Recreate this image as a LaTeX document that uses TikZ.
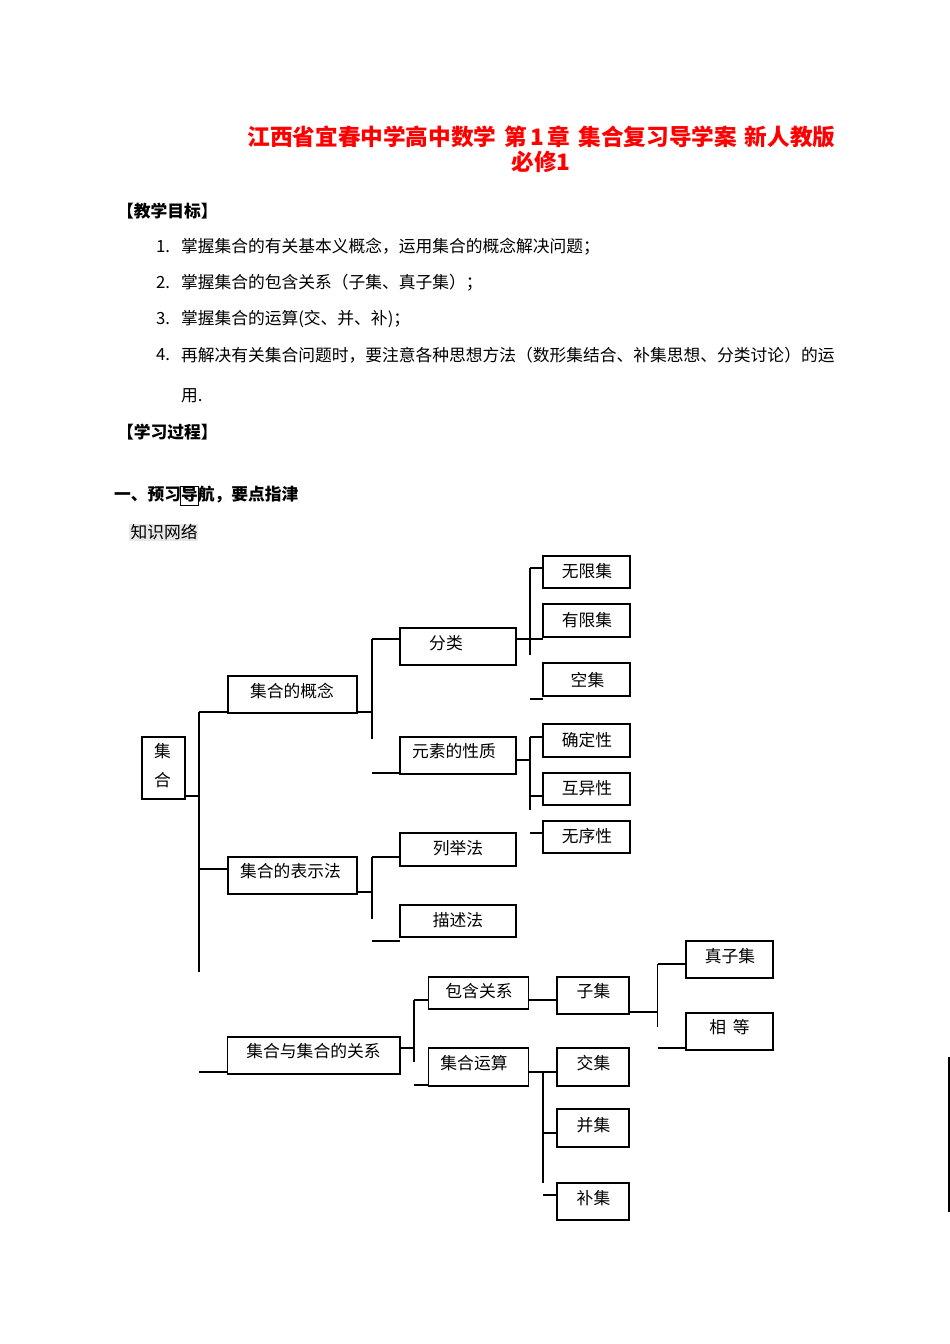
\documentclass[tikz,border=0pt]{standalone}
\usepackage{fontspec}
\setmainfont{Noto Sans CJK SC}
\usetikzlibrary{fit}
\newcommand\mybox[5]{\node[boxline, fit={(#2,#3) (#4,#5)}] (#1) {};}
\begin{document}
\begin{tikzpicture}[x=0.6266pt,y=-0.6266pt,
  every node/.style={inner sep=0pt, outer sep=0pt},
  txt/.style={font=\fontsize{10.5pt}{12pt}\selectfont},
  hdr/.style={font=\fontsize{10.5pt}{12pt}\selectfont\bfseries, anchor=west},
  ttl/.style={font=\fontsize{14.2pt}{17pt}\selectfont\bfseries, text=red},
  boxline/.style={draw, line width=0.9pt, inner sep=0pt},
  conn/.style={line width=0.9pt}]
\fill[white] (0,0) rectangle (950,1344);
\useasboundingbox (0,0) rectangle (950,1344);

% title
\node[ttl] (title1) at (541.5,137) {江西省宜春中学高中数学\hspace{0.35em}第\hspace{0.15em}1\hspace{0.15em}章\hspace{0.35em}集合复习导学案\hspace{0.35em}新人教版};
\node[ttl] (title2) at (541,162) {必修1};

% objectives
\node[hdr] (h1) at (117,211) {【教学目标】};
\node[txt, anchor=west] (n1) at (156,247) {1.};
\node[txt, anchor=west] (i1) at (181,247) {掌握集合的有关基本义概念，运用集合的概念解决问题；};
\node[txt, anchor=west] (n2) at (156,283) {2.};
\node[txt, anchor=west] (i2) at (181,283) {掌握集合的包含关系（子集、真子集）；};
\node[txt, anchor=west] (n3) at (156,319) {3.};
\node[txt, anchor=west] (i3) at (181,319) {掌握集合的运算(交、并、补)；};
\node[txt, anchor=west] (n4) at (156,355) {4.};
\node[txt, anchor=west] (i4) at (181,355) {再解决有关集合问题时，要注意各种思想方法（数形集结合、补集思想、分类讨论）的运};
\node[txt, anchor=west] (i4b) at (181,396) {用.};
\node[hdr] (h2) at (117,432) {【学习过程】};

% section
\node[hdr] (h3) at (114,495) {一、预习导航，要点指津};
\node[draw, line width=0.6pt, fit={(180.5,486) (198.5,505)}] (daobox) {};
\fill[gray!18] (129,524) rectangle (198,541);
\node[txt, anchor=west] (h4) at (130.5,532) {知识网络};

% boxes
\mybox{jihe}{142}{737}{185}{799}
\mybox{gainian}{228}{676}{357}{713}
\mybox{fenlei}{400}{628}{516}{665}
\mybox{xingzhi}{400}{737}{516}{774}
\mybox{wuxian}{543}{556}{630}{588}
\mybox{youxian}{543}{604}{630}{637}
\mybox{kong}{543}{663}{630}{696}
\mybox{queding}{543}{724}{630}{757}
\mybox{huyi}{543}{773}{630}{805}
\mybox{wuxu}{543}{821}{630}{853}
\mybox{biaoshi}{228}{857}{357}{894}
\mybox{liju}{400}{833}{516}{866}
\mybox{miaoshu}{400}{905}{516}{937}
\mybox{guanxi}{227.5}{1037}{400}{1074}
\mybox{baohan}{428.5}{977}{528.5}{1009}
\mybox{yunsuan}{428.5}{1048}{528.5}{1086}
\mybox{ziji}{557}{977}{629}{1014}
\mybox{zhenziji}{686}{941}{773}{978}
\mybox{xiangdeng}{686}{1013}{773}{1050}
\mybox{jiao}{557}{1048}{629}{1086}
\mybox{bing}{557}{1109}{629}{1147}
\mybox{bu}{557}{1183}{629}{1220}

% box texts
\node[txt] (l-ji) at (162.5,751.5) {集};
\node[txt] (l-he) at (162.5,780) {合};
\node[txt] (l-gainian) at (292,691.5) {集合的概念};
\node[txt] (l-fenlei) at (446,643) {分类};
\node[txt] (l-xingzhi) at (454,751.5) {元素的性质};
\node[txt] (l-wuxian) at (587,571.5) {无限集};
\node[txt] (l-youxian) at (587,620) {有限集};
\node[txt] (l-kong) at (587.5,680) {空集};
\node[txt] (l-queding) at (587,740) {确定性};
\node[txt] (l-huyi) at (587,788.5) {互异性};
\node[txt] (l-wuxu) at (587,836) {无序性};
\node[txt] (l-biaoshi) at (290.5,871.5) {集合的表示法};
\node[txt] (l-liju) at (458,848.5) {列举法};
\node[txt] (l-miaoshu) at (458,920) {描述法};
\node[txt] (l-guanxi) at (313.5,1051.5) {集合与集合的关系};
\node[txt] (l-baohan) at (479,991.5) {包含关系};
\node[txt] (l-yunsuan) at (474,1063.5) {集合运算};
\node[txt] (l-ziji) at (593.5,991.5) {子集};
\node[txt] (l-zhenziji) at (730,956) {真子集};
\node[txt] (l-xiangdeng) at (729.5,1027.5) {相\hspace{0.4em}等};
\node[txt] (l-jiao) at (593.5,1063.5) {交集};
\node[txt] (l-bing) at (593.5,1125) {并集};
\node[txt] (l-bu) at (593.5,1198.5) {补集};

% bus coordinates
\coordinate (t1a) at (199,712);
\coordinate (t1b) at (199,972);
\coordinate (b2a) at (372,639);
\coordinate (b2b) at (372,739);
\coordinate (b3a) at (530,568);
\coordinate (b3b) at (530,655);
\coordinate (b4a) at (530,737);
\coordinate (b4b) at (530,810);
\coordinate (b5a) at (372,857);
\coordinate (b5b) at (372,919);
\coordinate (b6a) at (414,1000);
\coordinate (b6b) at (414,1062);
\coordinate (b7a) at (657.5,964);
\coordinate (b7b) at (657.5,1027);
\coordinate (b8a) at (543,1072);
\coordinate (b8b) at (543,1183);

% connectors
\draw[conn] (t1a) -- (t1b);
\draw[conn] (jihe.east |- 0,796) -- (t1a |- 0,796);
\draw[conn] (t1a) -- (gainian.west |- t1a);
\draw[conn] (t1a |- 0,869) -- (biaoshi.west |- 0,869);
\draw[conn] (t1a |- 0,1072) -- (guanxi.west |- 0,1072);

\draw[conn] (b2a) -- (b2b);
\draw[conn] (gainian.east |- 0,712) -- (b2a |- 0,712);
\draw[conn] (b2a) -- (fenlei.west |- b2a);
\draw[conn] (b2a |- 0,773) -- (xingzhi.west |- 0,773);

\draw[conn] (b3a) -- (b3b);
\draw[conn] (fenlei.east |- 0,639) -- (wuxian.west |- 0,639);
\draw[conn] (b3a) -- (wuxian.west |- b3a);
\draw[conn] (b3a |- 0,699) -- (kong.west |- 0,699);

\draw[conn] (b4a) -- (b4b);
\draw[conn] (xingzhi.east |- 0,760) -- (b4a |- 0,760);
\draw[conn] (b4a) -- (queding.west |- b4a);
\draw[conn] (b4a |- 0,796) -- (huyi.west |- 0,796);
\draw[conn] (b4a |- 0,833) -- (wuxu.west |- 0,833);

\draw[conn] (b5a) -- (b5b);
\draw[conn] (biaoshi.east |- 0,892) -- (b5a |- 0,892);
\draw[conn] (b5a) -- (liju.west |- b5a);
\draw[conn] (b5a |- 0,941) -- (miaoshu.west |- 0,941);

\draw[conn] (b6a) -- (b6b);
\draw[conn] (guanxi.east |- 0,1048) -- (b6a |- 0,1048);
\draw[conn] (b6a) -- (baohan.west |- b6a);
\draw[conn] (b6a |- 0,1085) -- (yunsuan.west |- 0,1085);

\draw[conn] (baohan.east |- 0,1000) -- (ziji.west |- 0,1000);

\draw[conn] (b7a) -- (b7b);
\draw[conn] (ziji.east |- 0,1012) -- (b7a |- 0,1012);
\draw[conn] (b7a) -- (zhenziji.west |- b7a);
\draw[conn] (b7a |- 0,1048) -- (xiangdeng.west |- 0,1048);

\draw[conn] (b8a) -- (b8b);
\draw[conn] (yunsuan.east |- b8a) -- (jiao.west |- b8a);
\draw[conn] (b8a |- 0,1133) -- (bing.west |- 0,1133);
\draw[conn] (b8a |- 0,1195) -- (bu.west |- 0,1195);

% right margin line
\coordinate (rm1) at (949,1057);
\coordinate (rm2) at (949,1212);
\draw[line width=1.2pt] (rm1) -- (rm2);
\end{tikzpicture}
\end{document}
